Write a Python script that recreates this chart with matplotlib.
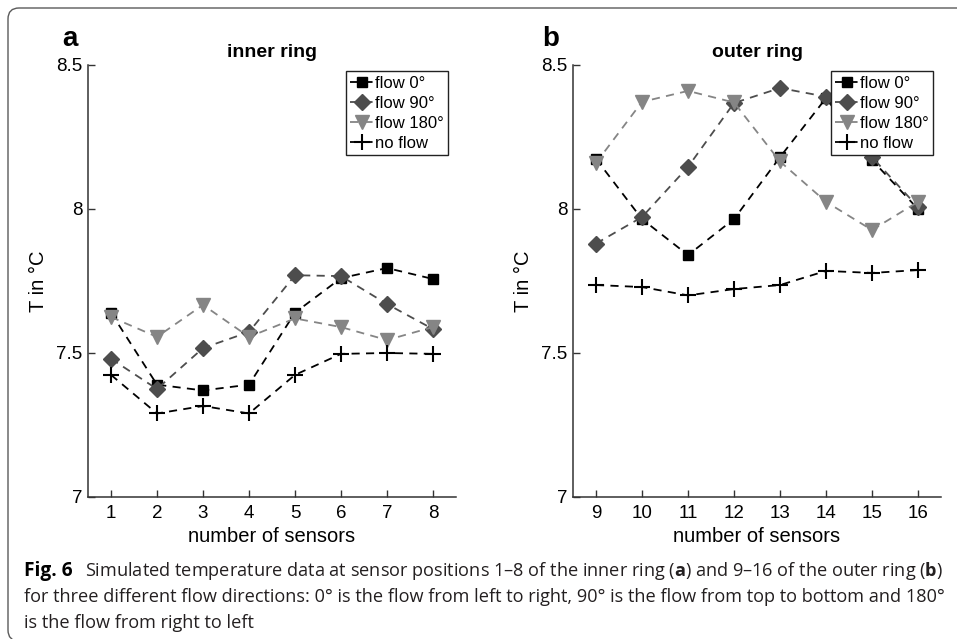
import matplotlib
matplotlib.use('Agg')
import matplotlib.pyplot as plt
from matplotlib.patches import FancyBboxPatch
from matplotlib.transforms import IdentityTransform

# sensor positions
sensors_inner = [1, 2, 3, 4, 5, 6, 7, 8]
sensors_outer = [9, 10, 11, 12, 13, 14, 15, 16]

# inner ring temperatures (deg C)
inner_flow0 = [7.64, 7.39, 7.37, 7.39, 7.64, 7.76, 7.795, 7.757]
inner_flow90 = [7.48, 7.375, 7.517, 7.573, 7.77, 7.767, 7.67, 7.583]
inner_flow180 = [7.625, 7.556, 7.667, 7.556, 7.62, 7.59, 7.545, 7.59]
inner_noflow = [7.424, 7.29, 7.316, 7.29, 7.424, 7.497, 7.5, 7.497]

# outer ring temperatures (deg C)
outer_flow0 = [8.174, 7.965, 7.84, 7.965, 8.18, 8.385, 8.17, 8.0]
outer_flow90 = [7.88, 7.972, 8.146, 8.368, 8.42, 8.39, 8.18, 8.007]
outer_flow180 = [8.16, 8.372, 8.41, 8.37, 8.165, 8.025, 7.927, 8.025]
outer_noflow = [7.736, 7.729, 7.70, 7.722, 7.736, 7.785, 7.778, 7.788]

labels = ['flow 0°', 'flow 90°', 'flow 180°', 'no flow']
y_ticks = [7, 7.5, 8, 8.5]
y_ticklabels = ['7', '7.5', '8', '8.5']

styles = [dict(marker='s', color='#000000', ms=7.5),
          dict(marker='D', color='#4d4d4d', ms=8.5),
          dict(marker='v', color='#858585', ms=10.5),
          dict(marker='+', color='#000000', ms=11, mew=1.5)]

plt.rcParams['font.family'] = ['Liberation Sans', 'DejaVu Sans']
plt.rcParams['mathtext.fontset'] = 'custom'
plt.rcParams['mathtext.rm'] = 'Open Sans'
plt.rcParams['mathtext.bf'] = 'Open Sans:bold'

fig = plt.figure(figsize=(9.57, 6.39), dpi=100)
W, H = 957, 639


def panel(rect, x, series, title, letter, letter_x):
    ax = fig.add_axes(rect)
    for y, lab, st in zip(series, labels, styles):
        ax.plot(x, y, linestyle=(0, (4.5, 3.5)), linewidth=1.3, color=st['color'],
                marker=st['marker'], markersize=st['ms'], markeredgewidth=st.get('mew', 1),
                markerfacecolor=st['color'], markeredgecolor=st['color'], label=lab)
    ax.set_xlim(x[0] - 0.5, x[-1] + 0.5)
    ax.set_ylim(7, 8.5)
    ax.set_xticks(x)
    ax.set_yticks(y_ticks)
    ax.set_yticklabels(y_ticklabels)
    for s in ('top', 'right'):
        ax.spines[s].set_visible(False)
    for s in ('left', 'bottom'):
        ax.spines[s].set_color('#333333')
        ax.spines[s].set_linewidth(1.1)
    ax.tick_params(direction='in', length=5, width=1, color='#333333', labelsize=13.5, pad=6)
    ax.tick_params(axis='y', pad=4)
    ax.set_xlabel('number of sensors', fontsize=14.5, labelpad=3)
    ax.set_ylabel('T in °C', fontsize=14.5, labelpad=6)
    ax.set_title(title, fontsize=14, fontweight='bold', pad=6)
    leg = ax.legend(loc='upper right', bbox_to_anchor=(0.978, 0.985), fontsize=12,
                    handlelength=1.4, handletextpad=0.1, labelspacing=0.3,
                    borderpad=0.25, borderaxespad=0, fancybox=False, framealpha=1)
    leg.get_frame().set_edgecolor('#222222')
    leg.get_frame().set_linewidth(1)
    fig.text(letter_x / W, 1 - 46 / H, letter, fontsize=20, fontweight='bold',
             ha='left', va='baseline')
    return ax


panel([88 / W, 1 - 497 / H, 368 / W, 432 / H], sensors_inner,
      [inner_flow0, inner_flow90, inner_flow180, inner_noflow], 'inner ring', 'a', 62)
panel([573 / W, 1 - 497 / H, 368 / W, 432 / H], sensors_outer,
      [outer_flow0, outer_flow90, outer_flow180, outer_noflow], 'outer ring', 'b', 542)

# frame around figure + caption
box = FancyBboxPatch((8, -2), 1000, 633, boxstyle='round,pad=0,rounding_size=11',
                     transform=IdentityTransform(), facecolor='none',
                     edgecolor='#5a5a5a', linewidth=1)
fig.patches.append(box)

caption_tag = 'Fig. 6'
caption = [r'Simulated temperature data at sensor positions 1–8 of the inner ring ($\mathbf{a}$) and 9–16 of the outer ring ($\mathbf{b}$)',
           'for three different flow directions: 0° is the flow from left to right, 90° is the flow from top to bottom and 180°',
           'is the flow from right to left']
caption_x = [85, 24, 24]
caption_y = [576, 602, 628]
cap_kw = dict(family='Open Sans', ha='left', va='baseline')
fig.text(24 / W, 1 - 576 / H, caption_tag, fontsize=13.8, fontweight='bold',
         color='black', **cap_kw)
for line, xx, yy in zip(caption, caption_x, caption_y):
    fig.text(xx / W, 1 - yy / H, line, fontsize=13.05, color='#231f20', **cap_kw)

fig.savefig('out.png', dpi=100)
